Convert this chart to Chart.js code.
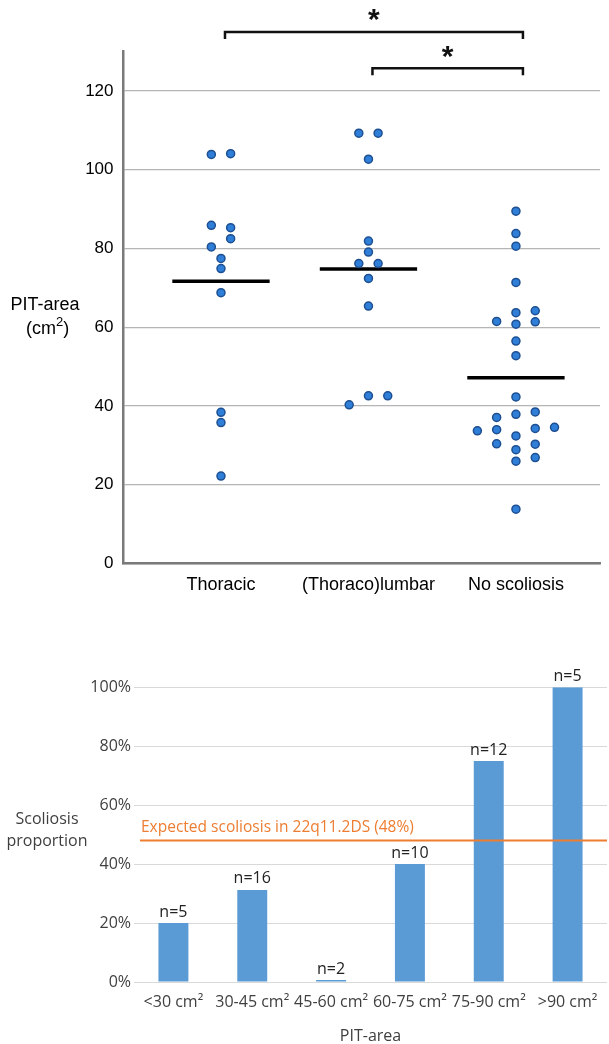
<!DOCTYPE html>
<html>
<head>
<meta charset="utf-8">
<script src="https://cdn.jsdelivr.net/npm/chart.js@4.4.1/dist/chart.umd.min.js"></script>
<style>
  html, body { margin: 0; padding: 0; background: #fff; }
  .panel { position: absolute; left: 0; width: 609px; }
</style>
</head>
<body>
<div class="panel" style="top:0;height:610px"><canvas id="areaChart"></canvas></div>
<div class="panel" style="top:620px;height:424px"><canvas id="propChart"></canvas></div>

<script>
// PIT-area (cm²) per curve type
const groups = ['Thoracic', '(Thoraco)lumbar', 'No scoliosis'];
const thoracicArea = [104.1, 103.9, 85.9, 85.3, 82.5, 80.4, 77.5, 74.9, 68.8, 38.4, 35.8, 22.2];
const lumbarArea = [109.3, 109.3, 102.7, 81.9, 79.1, 76.2, 76.2, 72.4, 65.4, 42.6, 42.6, 40.3];
const noScoliosisArea = [89.5, 83.8, 80.6, 71.4, 64.2, 63.7, 61.5, 61.4, 60.8, 56.5, 52.8, 42.3, 38.5,
  37.9, 37.1, 34.6, 34.3, 34.0, 33.7, 32.4, 30.4, 30.3, 28.9, 26.9, 26.0, 13.8];
const groupMeans = [71.7, 74.8, 47.2];
const areaTicks = [0, 20, 40, 60, 80, 100, 120];

// swarm column of every dot (same order as the values above)
const thoracicCols = [1, -1, -1, 1, 1, -1, 0, 0, 0, 0, 0, 0];
const lumbarCols = [-1, 1, 0, 0, 0, -1, 1, 0, 0, 0, 2, -2];
const noScoliosisCols = [0, 0, 0, 0, 2, 0, -2, 2, 0, 0, 0, 0, 2, 0, -2, 4, 2, -2, -4, 0, -2, 2, 0, 2, 0, 0];

// significant pairs (group indexes)
const sigPairs = [[0, 2], [1, 2]];

// scoliosis share per PIT-area bin
const areaBins = ['<30 cm²', '30-45 cm²', '45-60 cm²', '60-75 cm²', '75-90 cm²', '>90 cm²'];
const scoliosisShare = [20, 31.25, 0, 40, 75, 100];
const binCounts = [5, 16, 2, 10, 12, 5];
const expectedShare = 48;
const shareTicks = [0, 20, 40, 60, 80, 100];

const COL_STEP = 0.0654;
const ARIAL = '"Liberation Sans", Arial, sans-serif';
const SEGOE = '"Open Sans", "Noto Sans", sans-serif';

const groupValues = [thoracicArea, lumbarArea, noScoliosisArea];
const groupCols = [thoracicCols, lumbarCols, noScoliosisCols];

const areaDecor = {
  id: 'areaDecor',
  afterDraw(chart) {
    const { ctx, chartArea, scales: { x } } = chart;
    ctx.save();

    // y title, written horizontally
    ctx.fillStyle = '#000';
    ctx.font = '18px ' + ARIAL;
    ctx.textAlign = 'center';
    ctx.textBaseline = 'middle';
    ctx.fillText('PIT-area', 45, 305);

    const a = '(cm', b = '2', c = ')';
    ctx.textAlign = 'left';
    const wa = ctx.measureText(a).width, wc = ctx.measureText(c).width;
    ctx.font = '13px ' + ARIAL;
    const wb = ctx.measureText(b).width;
    let sx = 47.7 - (wa + wb + wc) / 2;
    ctx.font = '18px ' + ARIAL;
    ctx.fillText(a, sx, 329.5);
    ctx.font = '13px ' + ARIAL;
    ctx.fillText(b, sx + wa, 322.5);
    ctx.font = '18px ' + ARIAL;
    ctx.fillText(c, sx + wa + wb, 329.5);

    // significance brackets
    const rows = [chartArea.top - 19.7, chartArea.top + 16.5];
    const starRows = [chartArea.top - 36.7, chartArea.top];
    ctx.strokeStyle = '#111';
    ctx.lineWidth = 2.5;
    ctx.font = 'bold 30px ' + ARIAL;
    ctx.textAlign = 'center';
    ctx.textBaseline = 'alphabetic';
    const m = ctx.measureText('*');
    sigPairs.forEach(([g1, g2], i) => {
      const x1 = x.getPixelForValue(g1 + 1) + 4;
      const x2 = x.getPixelForValue(g2 + 1) + 7;
      const yy = rows[i];
      ctx.beginPath();
      ctx.moveTo(x1, yy + 7);
      ctx.lineTo(x1, yy);
      ctx.lineTo(x2, yy);
      ctx.lineTo(x2, yy + 7);
      ctx.stroke();
      const cy = starRows[i];
      ctx.fillStyle = '#111';
      ctx.fillText('*', (x1 + x2) / 2, cy + (m.actualBoundingBoxAscent - m.actualBoundingBoxDescent) / 2);
    });
    ctx.restore();
  }
};

new Chart(document.getElementById('areaChart'), {
  type: 'scatter',
  data: {
    datasets: [
      ...groupValues.map((vals, gi) => ({
        type: 'scatter',
        label: groups[gi],
        data: vals.map((v, k) => ({ x: gi + 1 + groupCols[gi][k] * COL_STEP, y: v })),
        backgroundColor: '#2f7ed8',
        borderColor: '#1d4f91',
        borderWidth: 1.5,
        pointRadius: 4,
        order: 0
      })),
      ...groupMeans.map((mean, gi) => ({
        type: 'line',
        label: groups[gi] + ' mean',
        data: [{ x: gi + 1 - 0.33, y: mean }, { x: gi + 1 + 0.33, y: mean }],
        showLine: true,
        borderColor: '#000',
        borderWidth: 3.5,
        pointRadius: 0,
        order: 1
      }))
    ]
  },
  options: {
    responsive: true,
    maintainAspectRatio: false,
    animation: false,
    layout: { padding: { left: 0, right: 9, top: 51.7, bottom: 0 } },
    plugins: { legend: { display: false }, tooltip: { enabled: false } },
    scales: {
      x: {
        type: 'linear',
        bounds: 'data',
        min: 0.339,
        max: 3.57,
        afterBuildTicks: s => { s.ticks = groups.map((_, i) => ({ value: i + 1 })); },
        afterFit: s => { s.height = 46.5; },
        grid: { display: false, drawTicks: false },
        border: { display: true, color: '#7a7a7a', width: 2.5 },
        ticks: {
          padding: 10.7, maxRotation: 0, autoSkip: false, color: '#000',
          font: { family: ARIAL, size: 18 },
          callback: v => groups[v - 1]
        }
      },
      y: {
        bounds: 'data',
        min: 0,
        max: 130,
        afterBuildTicks: s => { s.ticks = areaTicks.map(v => ({ value: v })); },
        afterFit: s => { s.width = 123.5; },
        grid: { color: '#b5b5b5', lineWidth: 1.3, drawTicks: false },
        border: { display: true, color: '#7a7a7a', width: 2.5 },
        ticks: { padding: 10, color: '#000', font: { family: ARIAL, size: 17 } }
      }
    }
  },
  plugins: [areaDecor]
});

const propDecor = {
  id: 'propDecor',
  afterDatasetsDraw(chart) {
    const { ctx, chartArea, scales: { y } } = chart;
    ctx.save();

    // expected share reference line
    const ly = y.getPixelForValue(expectedShare);
    ctx.strokeStyle = '#ED7D31';
    ctx.lineWidth = 2;
    ctx.beginPath();
    ctx.moveTo(chartArea.left + 6, ly);
    ctx.lineTo(chartArea.right, ly);
    ctx.stroke();
    ctx.fillStyle = '#ED7D31';
    ctx.font = '15.5px ' + SEGOE;
    ctx.textAlign = 'left';
    ctx.textBaseline = 'middle';
    ctx.fillText(`Expected scoliosis in 22q11.2DS (${expectedShare}%)`, chartArea.left + 7, ly - 13);

    // group sizes above bars
    ctx.fillStyle = '#222';
    ctx.textAlign = 'center';
    ctx.font = '16px ' + SEGOE;
    chart.getDatasetMeta(0).data.forEach((bar, i) => {
      ctx.fillText('n=' + binCounts[i], bar.x, bar.y - 11);
    });

    // axis titles
    ctx.fillStyle = '#3f3f3f';
    ctx.font = '16px ' + SEGOE;
    ctx.fillText('Scoliosis', 47, 199);
    ctx.fillText('proportion', 47, 221);
    ctx.fillText('PIT-area', (chartArea.left + chartArea.right) / 2, 416.5);
    ctx.restore();
  }
};

new Chart(document.getElementById('propChart'), {
  type: 'bar',
  data: {
    labels: areaBins,
    datasets: [{
      data: scoliosisShare,
      backgroundColor: '#5B9BD5',
      barPercentage: 0.38,
      categoryPercentage: 1,
      minBarLength: 2
    }]
  },
  options: {
    responsive: true,
    maintainAspectRatio: false,
    animation: false,
    layout: { padding: { left: 0, right: 2, top: 67.3, bottom: 0 } },
    plugins: { legend: { display: false }, tooltip: { enabled: false } },
    scales: {
      x: {
        afterFit: s => { s.height = 62; },
        grid: { display: false, drawTicks: false },
        border: { display: false },
        ticks: {
          padding: 11, maxRotation: 0, autoSkip: false, color: '#3f3f3f',
          font: { family: SEGOE, size: 16 }
        }
      },
      y: {
        min: 0,
        max: 100,
        afterBuildTicks: s => { s.ticks = shareTicks.map(v => ({ value: v })); },
        afterFit: s => { s.width = 134; },
        grid: { color: '#d9d9d9', lineWidth: 1, drawTicks: false },
        border: { display: false },
        ticks: {
          padding: 3, color: '#3f3f3f',
          font: { family: SEGOE, size: 16 },
          callback: v => v + '%'
        }
      }
    }
  },
  plugins: [propDecor]
});
</script>
</body>
</html>
